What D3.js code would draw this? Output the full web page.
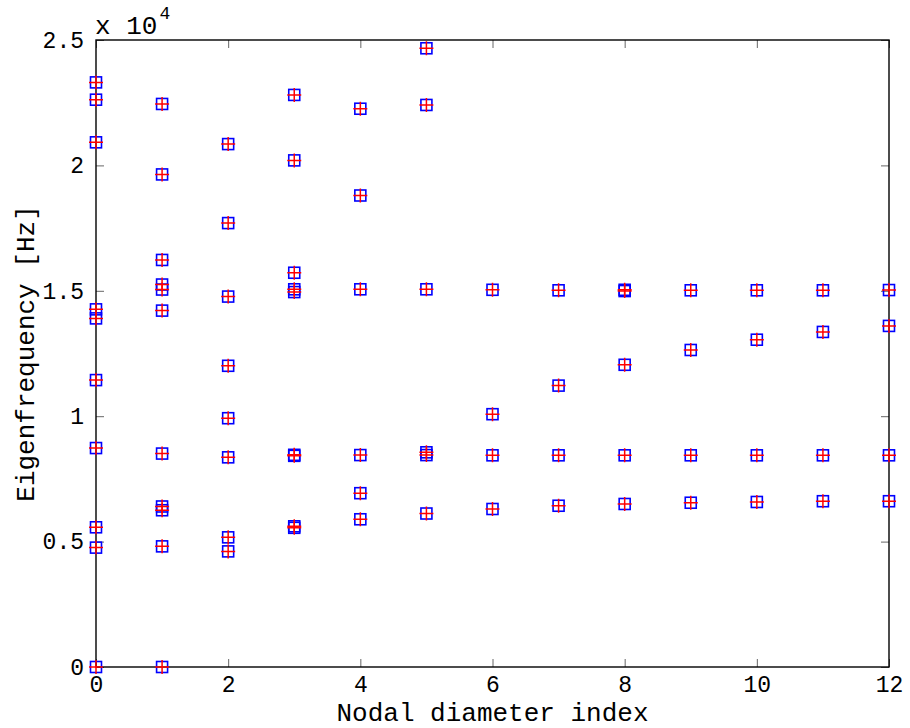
<!DOCTYPE html>
<html>
<head>
<meta charset="utf-8">
<script src="https://cdn.jsdelivr.net/npm/d3@7"></script>
<style>
  body { margin: 0; background: #fff; }
  text { font-family: "Liberation Mono", "DejaVu Sans Mono", monospace; fill: #000; }
</style>
</head>
<body>
<div id="chart"></div>
<script>
// nodal diameter index and the eigenfrequencies found for each (Hz)
const nodalIndex = [0, 1, 2, 3, 4, 5, 6, 7, 8, 9, 10, 11, 12];
const eigenFreqs = [
  [0, 4760, 5570, 8730, 11440, 13900, 14260, 20920, 22620, 23310],
  [0, 4810, 6250, 6400, 8510, 14210, 15050, 15250, 16230, 19640, 22450],
  [4610, 5170, 8360, 9920, 12010, 14770, 17700, 20850],
  [5550, 5610, 8420, 8460, 14950, 15060, 15720, 20200, 22810],
  [5890, 6930, 8450, 15060, 18800, 22260],
  [6120, 8450, 8560, 15060, 22410, 24670],
  [6300, 8440, 10080, 15040],
  [6430, 8440, 11220, 15020],
  [6500, 8440, 12050, 14990, 15040],
  [6550, 8440, 12640, 15020],
  [6580, 8440, 13050, 15020],
  [6610, 8440, 13360, 15020],
  [6610, 8440, 13600, 15030]
];
const xTicks = [0, 2, 4, 6, 8, 10, 12];
const yTicks = [0, 5000, 10000, 15000, 20000, 25000];
const yTickLabels = ["0", "0.5", "1", "1.5", "2", "2.5"];

const W = 910, H = 728;
const box = { left: 96, right: 889, top: 40, bottom: 667 };

const svg = d3.select("#chart").append("svg")
  .attr("width", W).attr("height", H);

const x = d3.scaleLinear().domain([0, 12]).range([box.left, box.right]);
const y = d3.scaleLinear().domain([0, 25000]).range([box.bottom, box.top]);

// flatten into points
const points = [];
nodalIndex.forEach((n, i) => eigenFreqs[i].forEach(f => points.push({ n: n, f: f })));

const tickLen = 8;
const tickFont = 23;

// axes: ticks point inward, mirrored on top/right
const gx = svg.append("g").attr("transform", `translate(0,${box.bottom})`)
  .call(d3.axisBottom(x).tickValues(xTicks).tickSizeInner(-tickLen).tickSizeOuter(0).tickPadding(9).tickFormat(d3.format("d")));
const gxt = svg.append("g").attr("transform", `translate(0,${box.top})`)
  .call(d3.axisTop(x).tickValues(xTicks).tickSizeInner(-tickLen).tickSizeOuter(0).tickFormat(""));
const gy = svg.append("g").attr("transform", `translate(${box.left},0)`)
  .call(d3.axisLeft(y).tickValues(yTicks).tickSizeInner(-tickLen).tickSizeOuter(0).tickPadding(12)
    .tickFormat((d, i) => yTickLabels[i]));
const gyr = svg.append("g").attr("transform", `translate(${box.right},0)`)
  .call(d3.axisRight(y).tickValues(yTicks).tickSizeInner(-tickLen).tickSizeOuter(0).tickFormat(""));

[gx, gxt, gy, gyr].forEach(g => {
  g.select(".domain").remove();
  g.selectAll(".tick line").attr("stroke", "#666").attr("stroke-width", 1);
  g.selectAll(".tick text").style("font-size", tickFont + "px").style("font-family", "Liberation Mono, monospace");
});
gx.selectAll(".tick text").attr("dy", "0.71em");

// box
svg.append("rect")
  .attr("x", box.left).attr("y", box.top)
  .attr("width", box.right - box.left).attr("height", box.bottom - box.top)
  .attr("fill", "none").attr("stroke", "#000").attr("stroke-width", 1.4);

// markers: blue squares then red plus on top
const sq = 11, pl = 14;
svg.append("g").selectAll("rect").data(points).enter().append("rect")
  .attr("x", d => x(d.n) - sq / 2).attr("y", d => y(d.f) - sq / 2)
  .attr("width", sq).attr("height", sq)
  .attr("fill", "none").attr("stroke", "#0000ff").attr("stroke-width", 1.6);

svg.append("g").selectAll("path").data(points).enter().append("path")
  .attr("d", d => {
    const cx = x(d.n), cy = y(d.f), h = pl / 2;
    return `M${cx - h},${cy}H${cx + h}M${cx},${cy - h}V${cy + h}`;
  })
  .attr("stroke", "#ff0000").attr("stroke-width", 1.5).attr("fill", "none");

// exponent label
const expo = svg.append("text").attr("x", box.left - 1).attr("y", 34)
  .style("font-size", "26px");
expo.append("tspan").text("x 10");
expo.append("tspan").attr("dx", 2).attr("dy", -15).style("font-size", "18px").text("4");

// axis labels
svg.append("text")
  .attr("x", (box.left + box.right) / 2).attr("y", 721)
  .attr("text-anchor", "middle").style("font-size", "26px")
  .text("Nodal diameter index");

svg.append("text")
  .attr("transform", `translate(34,${(box.top + box.bottom) / 2}) rotate(-90)`)
  .attr("text-anchor", "middle").style("font-size", "26px")
  .text("Eigenfrequency [Hz]");
</script>
</body>
</html>
